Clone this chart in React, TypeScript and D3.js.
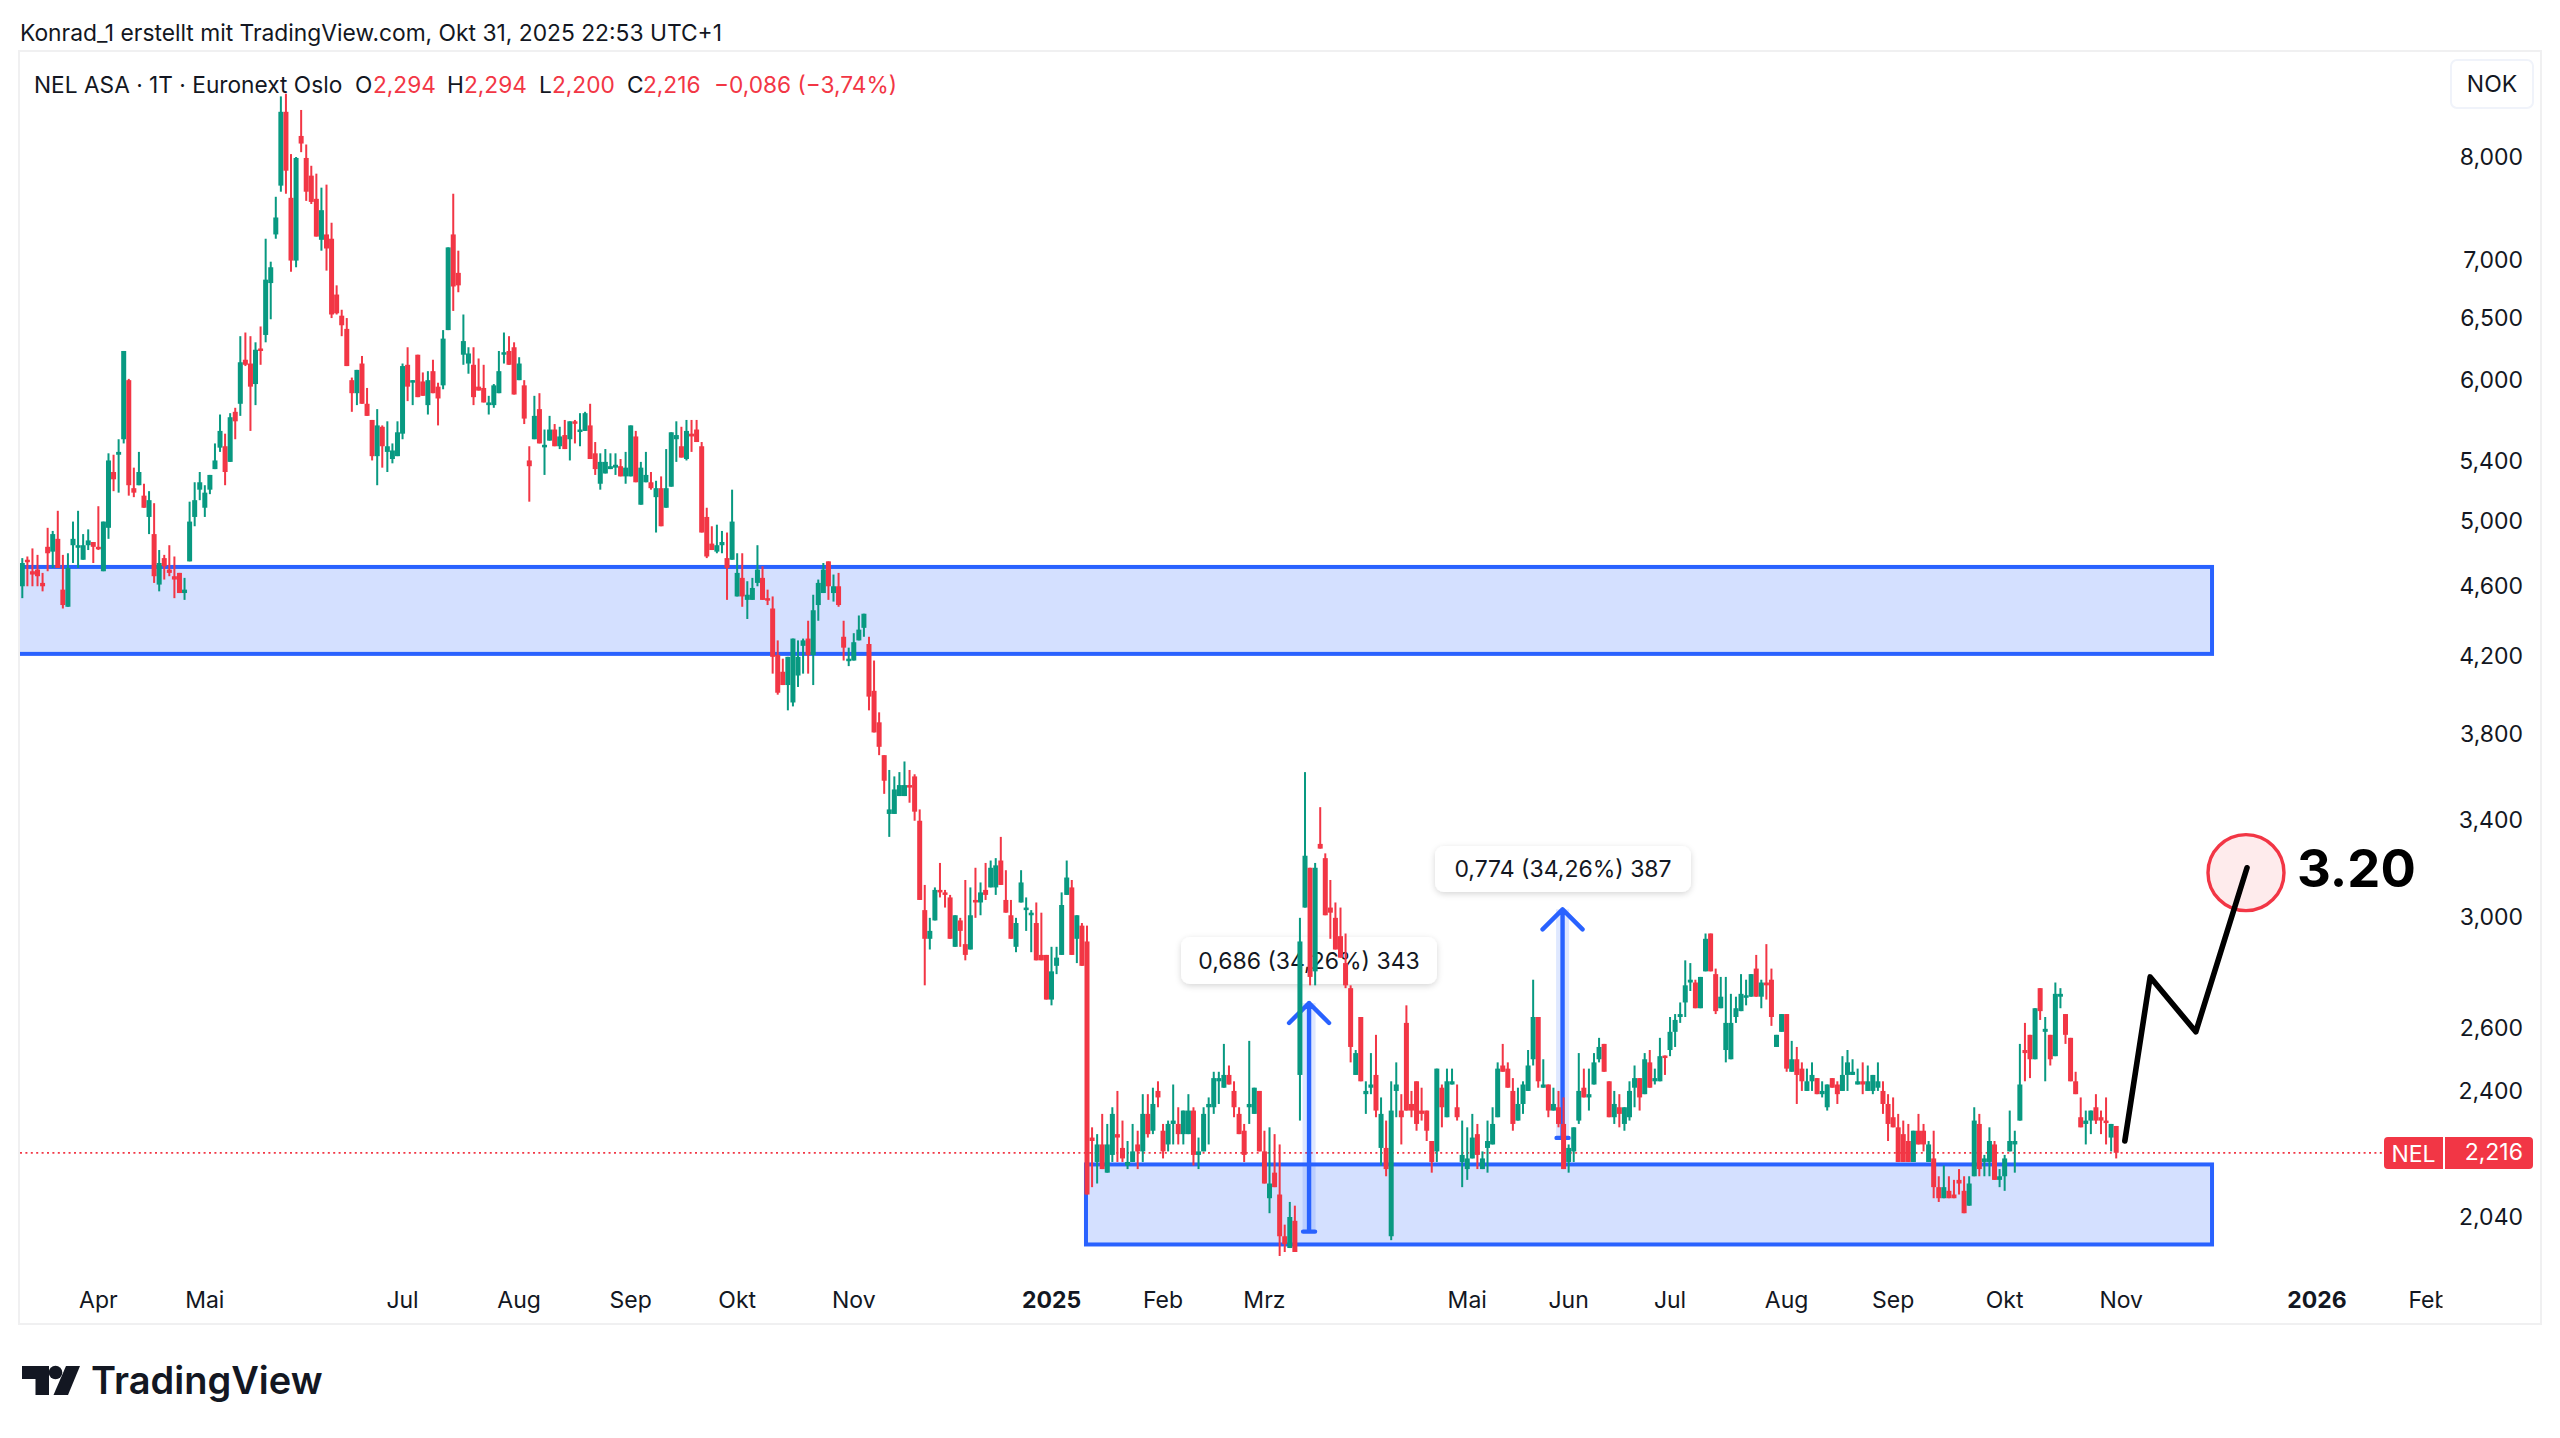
import React from "react";
import * as d3 from "d3";

// each bar: [open, high, low, close]
type Bar = number[];
const barsMar2024: Bar[] = [
[4.60,4.77,4.53,4.74],[4.76,4.78,4.60,4.75],[4.69,4.83,4.60,4.67],[4.70,4.79,4.60,4.66],[4.62,4.68,4.57,4.60],
[4.84,4.96,4.69,4.80],[4.81,4.94,4.71,4.92],[4.89,5.07,4.71,4.71],[4.58,4.79,4.47,4.49],[4.48,4.80,4.48,4.71],
[4.85,5.00,4.74,4.89],[4.84,5.07,4.71,4.85],[4.76,4.92,4.76,4.85],[4.85,4.95,4.82,4.88],[4.87,4.87,4.74,4.84],
];
const barsApr2024: Bar[] = [
[4.84,5.10,4.82,4.83],[4.69,5.00,4.69,5.00],[4.96,5.46,4.89,5.41],[5.33,5.45,5.20,5.28],[5.45,5.56,5.19,5.47],
[5.56,6.23,5.53,6.23],[6.00,6.01,5.17,5.24],[5.22,5.36,5.16,5.19],[5.24,5.47,5.24,5.33],[5.17,5.25,5.09,5.09],
[5.03,5.20,4.92,5.14],[4.92,5.12,4.62,4.66],[4.61,4.82,4.57,4.74],[4.77,4.79,4.64,4.72],[4.70,4.85,4.66,4.68],
[4.66,4.78,4.53,4.64],[4.68,4.68,4.56,4.56],[4.56,4.65,4.52,4.58],[4.75,5.13,4.75,5.00],[5.03,5.26,4.97,5.14],
[5.21,5.33,5.14,5.26],
];
const barsMaiJun2024: Bar[] = [
[5.09,5.24,5.03,5.19],[5.21,5.31,5.18,5.31],[5.35,5.53,5.35,5.41],[5.50,5.74,5.47,5.62],[5.51,5.60,5.24,5.33],
[5.40,5.75,5.40,5.72],[5.76,5.79,5.56,5.69],[5.82,6.35,5.73,6.14],[6.16,6.38,6.11,6.12],[6.13,6.35,5.62,5.95],
[5.97,6.30,5.81,6.24],[6.25,6.43,6.12,6.23],[6.36,7.20,6.30,6.83],[6.80,6.99,6.49,6.94],[7.24,7.60,7.20,7.40],
[7.71,8.65,7.65,8.48],[8.48,8.68,7.63,7.86],[7.59,8.03,6.90,7.00],[7.00,8.00,6.94,7.99],[8.22,8.50,8.05,8.14],
[7.99,8.13,7.56,7.65],[7.81,7.91,7.53,7.55],[7.58,7.83,7.22,7.22],[7.19,7.69,7.09,7.47],[7.24,7.72,6.91,7.11],
[7.20,7.35,6.50,6.53],[6.70,6.78,6.53,6.54],[6.52,6.57,6.35,6.44],[6.41,6.50,6.11,6.11],[6.00,6.02,5.76,5.90],
[5.90,6.08,5.81,6.08],[6.13,6.19,5.82,5.82],[5.82,5.94,5.73,5.73],[5.70,5.70,5.41,5.44],[5.44,5.78,5.24,5.66],
[5.65,5.66,5.36,5.51],[5.47,5.69,5.33,5.51],[5.42,5.53,5.39,5.48],[5.44,5.69,5.44,5.61],
];
const barsJul2024: Bar[] = [
[5.60,6.13,5.56,6.11],[6.12,6.26,5.84,5.95],[5.99,6.00,5.81,6.00],[6.20,6.20,5.87,5.87],[5.99,6.06,5.88,5.88],
[5.81,6.07,5.74,6.00],[6.07,6.16,5.90,5.90],[5.95,5.98,5.66,5.86],[5.96,6.40,5.93,6.33],[6.40,7.12,6.40,7.12],
[7.24,7.63,6.56,6.77],[6.89,7.09,6.72,6.78],[6.20,6.53,6.12,6.31],[6.13,6.26,6.05,6.21],[6.12,6.26,5.81,5.87],
[5.95,6.17,5.92,5.92],[5.94,6.12,5.83,5.83],[5.81,5.88,5.74,5.83],[5.81,5.97,5.79,5.96],[5.90,6.23,5.90,6.07],
[6.20,6.38,6.13,6.22],[6.23,6.35,6.12,6.12],[6.26,6.30,5.89,5.89],
];
const barsAug2024: Bar[] = [
[6.00,6.18,6.00,6.13],[5.96,6.00,5.67,5.71],[5.41,5.51,5.13,5.37],[5.56,5.88,5.56,5.73],[5.78,5.90,5.53,5.53],
[5.51,5.63,5.31,5.52],[5.55,5.73,5.55,5.63],[5.63,5.67,5.51,5.51],[5.51,5.65,5.49,5.58],[5.59,5.70,5.49,5.49],
[5.56,5.69,5.41,5.69],[5.69,5.70,5.53,5.68],[5.62,5.75,5.51,5.63],[5.62,5.76,5.62,5.75],[5.66,5.82,5.42,5.42],
[5.46,5.54,5.31,5.35],[5.25,5.46,5.21,5.40],[5.32,5.49,5.32,5.40],[5.35,5.46,5.35,5.37],[5.36,5.46,5.31,5.38],
[5.37,5.42,5.30,5.30],[5.30,5.47,5.25,5.36],
];
const barsSep2024: Bar[] = [
[5.30,5.66,5.30,5.66],[5.58,5.62,5.26,5.26],[5.11,5.40,5.11,5.36],[5.26,5.47,5.26,5.31],[5.26,5.33,5.21,5.22],
[5.16,5.27,4.93,5.22],[5.22,5.30,4.97,4.97],[5.09,5.49,5.09,5.22],[5.23,5.61,5.23,5.61],[5.56,5.69,5.40,5.59],
[5.51,5.65,5.43,5.43],[5.42,5.70,5.41,5.62],[5.60,5.70,5.47,5.58],[5.63,5.70,5.54,5.54],[5.51,5.54,4.93,4.93],
[5.03,5.09,4.77,4.78],[4.86,4.97,4.82,4.82],[4.81,4.98,4.80,4.85],[4.85,4.94,4.80,4.87],[4.77,4.93,4.52,4.71],
[4.76,5.21,4.76,5.00],
];
const barsOkt2024: Bar[] = [
[4.54,4.80,4.54,4.68],[4.65,4.80,4.48,4.54],[4.52,4.63,4.41,4.55],[4.52,4.65,4.52,4.59],[4.62,4.85,4.60,4.70],
[4.65,4.72,4.52,4.52],[4.53,4.58,4.49,4.52],[4.47,4.54,4.11,4.20],[4.21,4.29,4.00,4.01],[4.12,4.19,4.05,4.05],
[4.05,4.20,3.92,4.20],[3.96,4.30,3.94,4.30],[4.10,4.29,4.04,4.20],[4.26,4.30,4.11,4.29],[4.30,4.40,4.11,4.21],
[4.21,4.55,4.05,4.46],[4.49,4.64,4.40,4.62],[4.56,4.74,4.56,4.70],[4.75,4.75,4.52,4.60],[4.56,4.67,4.51,4.60],
[4.60,4.68,4.48,4.49],[4.31,4.40,4.18,4.25],[4.18,4.25,4.15,4.19],
];
const barsNovDez2024: Bar[] = [
[4.18,4.33,4.18,4.28],[4.29,4.43,4.29,4.35],[4.36,4.44,4.31,4.44],[4.27,4.31,3.92,3.99],[4.02,4.18,3.81,3.81],
[3.86,3.91,3.70,3.74],[3.70,3.70,3.52,3.58],[3.43,3.63,3.33,3.45],[3.43,3.60,3.43,3.54],[3.51,3.62,3.51,3.56],
[3.51,3.67,3.51,3.56],[3.56,3.63,3.48,3.55],[3.60,3.61,3.40,3.44],[3.40,3.45,3.07,3.07],[3.03,3.13,2.75,2.92],
[2.92,3.00,2.88,2.95],[2.99,3.12,2.99,3.11],[3.11,3.22,3.08,3.10],[3.10,3.11,3.04,3.09],[3.08,3.09,2.92,2.92],
[2.89,3.01,2.89,3.01],[2.99,3.00,2.89,2.95],[2.90,3.15,2.84,2.86],[2.88,3.12,2.88,3.01],[3.07,3.20,3.00,3.06],
[3.06,3.14,3.01,3.10],[3.11,3.22,3.07,3.09],[3.12,3.23,3.12,3.20],[3.12,3.24,3.09,3.21],[3.23,3.33,3.13,3.13],
[3.07,3.19,3.02,3.02],[3.01,3.07,2.92,2.92],[2.89,3.00,2.87,2.98],[3.06,3.19,3.06,3.14],[3.03,3.08,2.95,3.04],
[3.01,3.03,2.87,3.02],[2.98,3.06,2.84,2.84],[2.86,3.02,2.84,2.84],[2.86,2.86,2.70,2.70],
];
const barsJan2025: Bar[] = [
[2.70,2.89,2.68,2.80],[2.82,2.89,2.79,2.85],[2.86,3.10,2.86,3.05],[3.09,3.23,3.09,3.16],[3.12,3.15,2.86,2.86],
[2.92,3.01,2.83,3.01],[2.97,2.98,2.82,2.82],[2.91,2.97,2.10,2.10],[2.26,2.29,2.12,2.25],[2.19,2.27,2.13,2.24],
[2.24,2.33,2.17,2.17],[2.16,2.30,2.16,2.24],[2.21,2.35,2.19,2.33],[2.27,2.40,2.19,2.26],[2.23,2.31,2.19,2.20],
[2.18,2.25,2.17,2.19],[2.19,2.30,2.19,2.22],[2.24,2.28,2.17,2.22],[2.22,2.39,2.19,2.33],[2.33,2.39,2.26,2.27],
[2.28,2.41,2.27,2.36],[2.40,2.43,2.35,2.38],
];
const barsFeb2025: Bar[] = [
[2.28,2.30,2.20,2.22],[2.24,2.31,2.22,2.30],[2.30,2.42,2.24,2.31],[2.30,2.35,2.24,2.27],[2.27,2.34,2.24,2.34],
[2.27,2.39,2.27,2.34],[2.34,2.35,2.18,2.21],[2.21,2.26,2.17,2.22],[2.22,2.35,2.22,2.33],[2.35,2.38,2.24,2.36],
[2.35,2.46,2.33,2.44],[2.43,2.46,2.36,2.44],[2.41,2.55,2.41,2.45],[2.45,2.48,2.42,2.42],[2.40,2.43,2.32,2.35],
[2.33,2.35,2.27,2.27],[2.28,2.30,2.19,2.21],[2.35,2.56,2.30,2.36],[2.33,2.41,2.33,2.41],[2.40,2.40,2.22,2.22],
];
const barsMrzApr2025: Bar[] = [
[2.22,2.28,2.13,2.13],[2.09,2.29,2.05,2.13],[2.16,2.27,2.12,2.12],[2.10,2.24,1.94,1.99],[1.99,2.02,1.95,1.97],
[1.96,2.08,1.96,2.04],[2.03,2.07,1.95,1.95],[2.45,3.00,2.31,2.91],[3.04,3.62,3.04,3.25],[3.20,3.20,2.75,2.78],
[2.80,3.22,2.75,3.20],[3.30,3.46,3.28,3.28],[3.24,3.26,3.01,3.01],[3.04,3.15,2.92,3.02],[3.00,3.06,2.88,2.88],
[2.93,3.04,2.85,2.85],[2.83,2.94,2.74,2.75],[2.74,2.75,2.49,2.54],[2.45,2.53,2.45,2.52],[2.64,2.64,2.43,2.43],
[2.39,2.43,2.33,2.40],[2.41,2.52,2.39,2.42],[2.45,2.58,2.32,2.34],[2.23,2.38,2.18,2.33],[2.23,2.31,2.15,2.17],
[1.99,2.43,1.98,2.34],[2.40,2.49,2.32,2.42],[2.34,2.39,2.24,2.32],[2.62,2.68,2.34,2.34],[2.36,2.40,2.32,2.34],
[2.43,2.43,2.28,2.30],[2.34,2.41,2.31,2.33],[2.34,2.34,2.25,2.28],[2.25,2.25,2.16,2.19],[2.22,2.47,2.19,2.47],
[2.41,2.42,2.29,2.35],[2.32,2.47,2.32,2.43],[2.42,2.47,2.42,2.43],[2.35,2.42,2.31,2.32],[2.19,2.31,2.12,2.21],
];
const barsMai2025: Bar[] = [
[2.17,2.29,2.14,2.20],[2.20,2.33,2.20,2.26],[2.27,2.30,2.17,2.21],[2.17,2.22,2.17,2.20],[2.23,2.31,2.16,2.25],
[2.24,2.35,2.24,2.30],[2.32,2.49,2.32,2.47],[2.48,2.55,2.46,2.46],[2.47,2.49,2.41,2.41],[2.40,2.44,2.28,2.30],
[2.31,2.41,2.31,2.36],[2.36,2.43,2.33,2.42],[2.40,2.53,2.40,2.48],[2.50,2.77,2.48,2.64],[2.64,2.64,2.41,2.43],
[2.41,2.50,2.41,2.42],[2.42,2.42,2.32,2.34],[2.34,2.41,2.34,2.36],[2.35,2.40,2.29,2.30],[2.30,2.38,2.17,2.17],
];
const barsJun2025: Bar[] = [
[2.19,2.24,2.16,2.23],[2.22,2.29,2.19,2.29],[2.31,2.52,2.30,2.40],[2.41,2.47,2.38,2.38],[2.38,2.47,2.34,2.39],
[2.42,2.52,2.42,2.49],[2.50,2.57,2.49,2.54],[2.55,2.55,2.46,2.46],[2.43,2.43,2.32,2.32],[2.32,2.40,2.30,2.36],
[2.35,2.39,2.29,2.33],[2.30,2.35,2.28,2.35],[2.32,2.43,2.31,2.40],[2.41,2.48,2.35,2.44],[2.44,2.44,2.34,2.38],
[2.39,2.52,2.39,2.50],[2.49,2.53,2.41,2.41],[2.43,2.47,2.42,2.44],[2.43,2.57,2.43,2.51],[2.512,2.512,2.45,2.505],
];
const barsJul2025: Bar[] = [
[2.53,2.64,2.51,2.59],[2.59,2.65,2.54,2.63],[2.64,2.69,2.62,2.65],[2.69,2.84,2.64,2.75],[2.76,2.83,2.73,2.77],
[2.76,2.77,2.67,2.67],[2.67,2.78,2.67,2.78],[2.80,2.94,2.80,2.92],[2.94,2.94,2.80,2.80],[2.79,2.81,2.65,2.66],
[2.67,2.78,2.67,2.71],[2.53,2.78,2.49,2.62],[2.50,2.72,2.50,2.62],[2.64,2.71,2.62,2.67],[2.66,2.79,2.66,2.72],
[2.71,2.77,2.68,2.715],[2.71,2.79,2.71,2.79],[2.81,2.86,2.71,2.71],[2.71,2.77,2.67,2.76],[2.76,2.90,2.70,2.75],
[2.77,2.81,2.61,2.64],[2.54,2.58,2.54,2.58],[2.59,2.65,2.59,2.65],
];
const barsAug2025: Bar[] = [
[2.65,2.65,2.46,2.47],[2.46,2.56,2.46,2.50],[2.50,2.54,2.36,2.45],[2.47,2.49,2.40,2.43],[2.40,2.47,2.40,2.43],
[2.43,2.49,2.40,2.45],[2.44,2.44,2.39,2.39],[2.39,2.43,2.38,2.40],[2.35,2.42,2.34,2.42],[2.44,2.44,2.41,2.41],
[2.42,2.43,2.36,2.39],[2.40,2.51,2.40,2.45],[2.45,2.53,2.40,2.49],[2.45,2.50,2.45,2.46],[2.42,2.47,2.42,2.43],
[2.43,2.49,2.39,2.42],[2.40,2.48,2.40,2.43],[2.40,2.45,2.39,2.45],[2.41,2.49,2.40,2.43],[2.40,2.43,2.33,2.36],
[2.36,2.39,2.25,2.30],
];
const barsSep2025: Bar[] = [
[2.32,2.38,2.29,2.29],[2.29,2.33,2.19,2.19],[2.27,2.31,2.19,2.19],[2.25,2.30,2.19,2.19],[2.19,2.28,2.19,2.28],
[2.28,2.33,2.24,2.24],[2.28,2.30,2.22,2.24],[2.19,2.25,2.19,2.24],[2.20,2.28,2.09,2.12],[2.12,2.15,2.08,2.09],
[2.09,2.18,2.09,2.12],[2.11,2.15,2.09,2.09],[2.10,2.14,2.09,2.09],[2.14,2.17,2.10,2.13],[2.11,2.15,2.05,2.05],
[2.07,2.15,2.07,2.13],[2.15,2.35,2.15,2.31],[2.30,2.33,2.15,2.17],[2.19,2.21,2.15,2.20],[2.19,2.29,2.15,2.25],
[2.24,2.25,2.14,2.14],[2.14,2.17,2.12,2.15],
];
const barsOkt2025: Bar[] = [
[2.15,2.21,2.11,2.20],[2.22,2.34,2.22,2.25],[2.24,2.28,2.16,2.25],[2.31,2.55,2.31,2.42],[2.53,2.62,2.43,2.52],
[2.58,2.58,2.44,2.50],[2.50,2.67,2.50,2.67],[2.74,2.74,2.63,2.66],[2.59,2.64,2.43,2.60],[2.58,2.58,2.48,2.50],
[2.51,2.76,2.51,2.72],[2.71,2.74,2.67,2.72],[2.65,2.65,2.55,2.58],[2.57,2.57,2.43,2.43],[2.43,2.46,2.39,2.39],
[2.32,2.38,2.29,2.29],[2.30,2.34,2.24,2.31],[2.31,2.34,2.27,2.34],[2.35,2.39,2.30,2.31],[2.32,2.34,2.27,2.31],
[2.31,2.38,2.24,2.305],[2.26,2.30,2.22,2.30],[2.294,2.294,2.20,2.216],
];
const bars: Bar[] = [barsMar2024, barsApr2024, barsMaiJun2024, barsJul2024, barsAug2024, barsSep2024, barsOkt2024,
  barsNovDez2024, barsJan2025, barsFeb2025, barsMrzApr2025, barsMai2025, barsJun2025, barsJul2025, barsAug2025, barsSep2025, barsOkt2025].flat();

const priceTicks = [8, 7, 6.5, 6, 5.4, 5, 4.6, 4.2, 3.8, 3.4, 3, 2.6, 2.4, 2.04];
const timeTickBars = [15, 36, 75, 98, 120, 141, 164, 203, 225, 245, 285, 305, 325, 348, 369, 391, 414, 452.6, 474.6];
const timeTickLabels = ["Apr", "Mai", "Jul", "Aug", "Sep", "Okt", "Nov", "2025", "Feb", "Mrz", "Mai", "Jun", "Jul", "Aug", "Sep", "Okt", "Nov", "2026", "Feb"];
const yearLabels = ["2025", "2026"];
const lastClose = 2.216;
const zoneUpper = { fromBar: -10, toBar: 431.9, top: 4.716, bottom: 4.216 };
const zoneLower = { fromBar: 209.8, toBar: 431.9, top: 2.183, bottom: 1.969 };
const measures = [
  { bar: 253.8, from: 2.002, to: 2.688, text: "0,686 (34,26%) 343", box: [1181, 937, 256, 47] },
  { bar: 303.8, from: 2.259, to: 3.033, text: "0,774 (34,26%) 387", box: [1435, 846, 256, 46] },
];
const forecastBars = [414.7, 419.7, 428.7, 438.8];
const forecastPrices = [2.25, 2.78, 2.59, 3.2];
const targetBar = 438.6;
const targetPrice = 3.18;

const GREEN = "#089981";
const RED = "#f23645";
const BLUE = "#2962ff";
const INK = "#131722";
const FONT = "Inter, 'Noto Sans', sans-serif";

const x = d3.scaleLinear().domain([0, 413]).range([22.3, 2116.2]);
const y = d3.scaleLog().domain([8, 2.04]).range([157, 1217]);
const fmt = (v: number) => v.toFixed(3).replace(".", ",");

const legendParts: [number, string, string][] = [
  [34, "NEL ASA · 1T · Euronext Oslo", INK], [355, "O", INK], [373, "2,294", RED], [447, "H", INK], [464, "2,294", RED],
  [539, "L", INK], [552, "2,200", RED], [627, "C", INK], [643, "2,216", RED], [714, "−0,086 (−3,74%)", RED],
];

function Zone({ z }: { z: { fromBar: number; toBar: number; top: number; bottom: number } }) {
  return (
    <rect x={x(z.fromBar)} y={y(z.top)} width={x(z.toBar) - x(z.fromBar)} height={y(z.bottom) - y(z.top)}
      fill={BLUE} fillOpacity={0.2} stroke={BLUE} strokeWidth={4} />
  );
}

export default function App() {
  const line = d3.line<number>().x((b) => x(b)).y((_, i) => y(forecastPrices[i]));
  return (
    <svg width={2560} height={1438} viewBox="0 0 2560 1438"
      style={{ position: "absolute", left: 0, top: 0, background: "#fff", fontFamily: FONT }}>
      <defs>
        <clipPath id="pane"><rect x={20} y={52} width={2422.5} height={1271} /></clipPath>
        <filter id="shadow" x="-10%" y="-30%" width="120%" height="170%">
          <feDropShadow dx={0} dy={2} stdDeviation={3} floodColor="#000" floodOpacity={0.16} />
        </filter>
      </defs>
      <rect x={19} y={51} width={2522} height={1273} fill="#fff" stroke="#f0f0f1" strokeWidth={2} />
      <text x={20} y={41} fontSize={22.8} fill={INK}>Konrad_1 erstellt mit TradingView.com, Okt 31, 2025 22:53 UTC+1</text>

      <g clipPath="url(#pane)">
        <Zone z={zoneUpper} />
        <Zone z={zoneLower} />
        <line x1={20} x2={2384} y1={y(lastClose)} y2={y(lastClose)} stroke={RED} strokeWidth={1.7} strokeDasharray="2 3.4" />
        {measures.map((m) => {
          const cx = x(m.bar), top = y(m.to), bot = y(m.from);
          const [bx, by, bw, bh] = m.box;
          return (
            <g key={m.text}>
              <rect x={cx - 6.5} y={top} width={13} height={bot - top} fill={BLUE} fillOpacity={0.15} />
              <path d={`M${cx} ${bot}V${top}M${cx - 20} ${top + 20}L${cx} ${top}L${cx + 20} ${top + 20}M${cx - 6} ${bot}H${cx + 6}`}
                fill="none" stroke={BLUE} strokeWidth={4.4} strokeLinecap="round" strokeLinejoin="round" />
              <rect x={bx} y={by} width={bw} height={bh} rx={9} fill="#fff" filter="url(#shadow)" />
              <text x={bx + bw / 2} y={by + bh / 2 + 8} textAnchor="middle" fontSize={23} fill={INK}>{m.text}</text>
            </g>
          );
        })}
        {bars.map((b, i) => {
          const [o, h, l, c] = b;
          const col = c > o ? GREEN : RED;
          const cx = x(i);
          const t = y(Math.max(o, c)), bt = y(Math.min(o, c));
          return (
            <g key={i} fill={col}>
              <rect x={cx - 1} y={y(h)} width={2} height={y(l) - y(h)} />
              <rect x={cx - 2.5} y={t} width={5} height={Math.max(bt - t, 2.5)} />
            </g>
          );
        })}
        <circle cx={x(targetBar)} cy={y(targetPrice)} r={38} fill={RED} fillOpacity={0.1} stroke={RED} strokeWidth={3.4} />
        <path d={line(forecastBars) ?? ""} fill="none" stroke="#000" strokeWidth={5.6} strokeLinecap="round" strokeLinejoin="round" />
        <text x={2297} y={887} fontSize={52.5} fontWeight={700} fill="#000">3.20</text>
        {timeTickLabels.map((t, i) => (
          <text key={i} x={x(timeTickBars[i])} y={1308} textAnchor="middle" fontSize={23}
            fontWeight={yearLabels.includes(t) ? 700 : 400} fill={INK}>{t}</text>
        ))}
      </g>

      {legendParts.map(([px, t, col]) => (
        <text key={px} x={px} y={93} fontSize={22.7} fill={col}>{t}</text>
      ))}
      {priceTicks.map((p) => (
        <text key={p} x={2523} y={y(p) + 7.6} textAnchor="end" fontSize={23} fill={INK}>{p.toFixed(3).replace(".", ",")}</text>
      ))}
      <rect x={2451} y={60} width={82} height={48} rx={6} fill="#fff" stroke="#f0f3fa" strokeWidth={2} />
      <text x={2492} y={92} textAnchor="middle" fontSize={23} fill={INK}>NOK</text>

      <path d="M2388 1137H2443V1169H2388a4 4 0 0 1-4-4V1141a4 4 0 0 1 4-4Z" fill={RED} />
      <path d="M2445 1137H2529a4 4 0 0 1 4 4V1165a4 4 0 0 1-4 4H2445Z" fill={RED} />
      <text x={2413.5} y={y(lastClose) + 9} textAnchor="middle" fontSize={23} fill="#fff">NEL</text>
      <text x={2523} y={y(lastClose) + 7} textAnchor="end" fontSize={23} fill="#fff">{fmt(lastClose)}</text>

      <g fill="#131722">
        <path d="M22 1366H49V1395H35.5V1379H22Z" />
        <circle cx={55.5} cy={1372.5} r={6.8} />
        <path d="M66 1366H80L68 1395H53.5Z" />
        <text x={91} y={1394} fontSize={38} fontWeight={600}>TradingView</text>
      </g>
    </svg>
  );
}
